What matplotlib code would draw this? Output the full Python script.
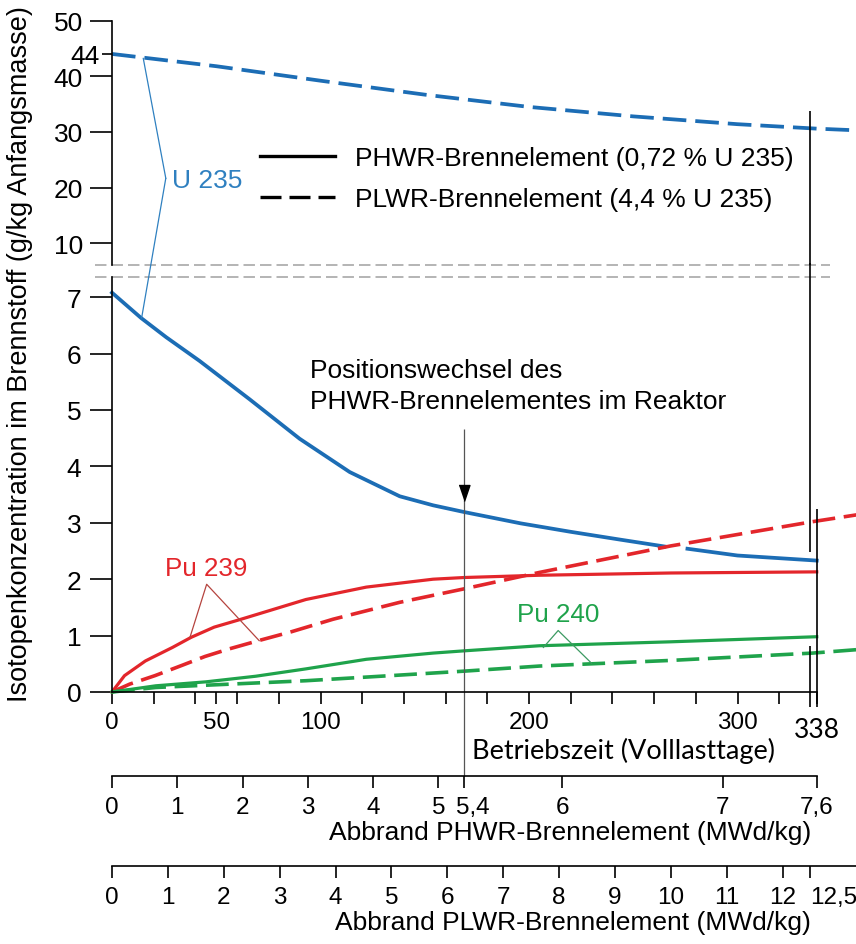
"""Isotopenkonzentration im PHWR- und PLWR-Brennelement über der Betriebszeit."""

import numpy as np
import matplotlib.pyplot as plt
import matplotlib.transforms as mtransforms
from matplotlib.lines import Line2D
from matplotlib.patches import ConnectionPatch

plt.rcParams["font.family"] = ["Liberation Sans", "DejaVu Sans"]

# --- curves (x in full-load days, y in g/kg initial mass) ---
u235_plwr_days = [0, 50, 100, 150, 200, 250, 300, 338, 357]
u235_plwr = [44.0, 41.8, 39.2, 36.7, 34.5, 32.8, 31.4, 30.6, 30.3]

# gap where the PLWR Pu 239 line crosses (as drawn in the original)
u235_phwr_days = [0, 14, 26, 42, 54, 66, 90, 114, 138, 148, 154, 169, 196, 220, 244,
                  265, 270, 276, 292, 300, 338]
u235_phwr = [7.08, 6.63, 6.29, 5.87, 5.53, 5.19, 4.49, 3.90, 3.47, 3.37, 3.31, 3.19,
             2.99, 2.84, 2.70, 2.58, np.nan, 2.54, 2.46, 2.42, 2.33]

pu239_phwr_days = [0, 6, 16, 29, 38, 49, 61, 77, 93, 122, 154, 169, 205, 268, 338]
pu239_phwr = [0, 0.29, 0.55, 0.79, 0.97, 1.15, 1.28, 1.46, 1.64, 1.86, 2.00, 2.03,
              2.07, 2.11, 2.13]

pu239_plwr_days = [0, 8.5, 20.6, 33.4, 44.6, 55.8, 70.2, 86.2, 106, 138, 169, 205,
                   268, 336, 357]
pu239_plwr = [0, 0.14, 0.29, 0.47, 0.63, 0.76, 0.91, 1.07, 1.29, 1.59, 1.83, 2.12,
              2.59, 3.02, 3.14]

pu240_phwr_days = [0, 21, 45, 69, 93, 122, 154, 169, 205, 268, 338]
pu240_phwr = [0, 0.11, 0.18, 0.28, 0.41, 0.58, 0.69, 0.73, 0.82, 0.89, 0.98]

pu240_plwr_days = [0, 21, 45, 69, 93, 138, 169, 205, 268, 336, 357]
pu240_plwr = [0, 0.08, 0.12, 0.16, 0.20, 0.30, 0.37, 0.46, 0.56, 0.69, 0.75]

# --- axes scales ---
top_yticks = [10, 20, 30, 40, 50]
top_extra_ytick = [44]
bottom_yticks = [0, 1, 2, 3, 4, 5, 6, 7]
day_ticks_labelled = [0, 50, 100, 200, 300, 338]
day_ticks_plain = [20, 40, 60, 80, 120, 140, 160, 180, 220, 240, 260, 280, 320]

# burnup <-> days (PHWR element changes position after half the time)
phwr_burnup_pts = [0, 5.4, 6, 7, 7.6]
phwr_day_pts = [0, 169, 216, 293, 338]
phwr_ticks = [0, 1, 2, 3, 4, 5, 5.4, 6, 7, 7.6]
plwr_burnup_pts = [0, 12.5]
plwr_day_pts = [0, 335]
plwr_ticks = [0, 1, 2, 3, 4, 5, 6, 7, 8, 9, 10, 11, 12, 12.5]

position_change_day = 169
plwr_end_day = 335
phwr_end_day = 338

BLUE = "#1c6db5"
U_TEXT = "#2f80c0"
RED = "#e3262b"
RED_PTR = "#b5443f"
GREEN = "#1fa34b"
GREEN_PTR = "#3c9a62"
GREY = "#a0a0a0"


def fmt(v):
    return f"{v:g}".replace(".", ",")


W, H = 856, 945
X0, PX_DAY = 112, 2.085
XMAX = (W - X0) / PX_DAY


def rect(top, bottom):
    return [X0 / W, 1 - bottom / H, (W - X0) / W, (bottom - top) / H]


fig = plt.figure(figsize=(W / 100, H / 100), dpi=100)
ax_t = fig.add_axes(rect(21.5, 266))
ax_b = fig.add_axes(rect(278, 693))
ax_p = fig.add_axes(rect(700, 777))
ax_l = fig.add_axes(rect(790, 867))

TOP_LO, BOT_HI = 6.14, 7.358
for ax in (ax_t, ax_b, ax_p, ax_l):
    ax.set_xlim(0, XMAX)
    ax.patch.set_visible(False)
    for s in ax.spines.values():
        s.set_linewidth(1.2)
    ax.spines[["top", "right"]].set_visible(False)
ax_t.set_ylim(TOP_LO, 50)
ax_b.set_ylim(0, BOT_HI)

# top part (PLWR U 235)
ax_t.spines["bottom"].set_visible(False)
ax_t.set_xticks([])
ax_t.set_yticks(top_yticks, [str(v) for v in top_yticks])
ax_t.set_yticks(top_extra_ytick, [str(v) for v in top_extra_ytick], minor=True)
ax_t.tick_params(axis="y", which="major", length=16, width=1.2, pad=5, labelsize=19)
ax_t.tick_params(axis="y", which="minor", length=7, width=1.2, pad=2, labelsize=19)

# lower part
ax_b.spines["bottom"].set_bounds(0, phwr_end_day)
ax_b.set_yticks(bottom_yticks, [str(v) for v in bottom_yticks])
ax_b.tick_params(axis="y", length=16, width=1.2, pad=6, labelsize=19)
ax_b.set_xticks(day_ticks_labelled, [str(v) for v in day_ticks_labelled])
ax_b.set_xticks(day_ticks_plain, minor=True)
ax_b.tick_params(axis="x", which="both", length=8.6, width=1.2, pad=5, labelsize=17.5)
lbl338 = ax_b.get_xticklabels()[-1]
lbl338.set_fontfamily("Lato")
lbl338.set_fontsize(19)
lbl338.set_y(-6 / 415)

# burnup scales
for ax, pts_b, pts_d, ticks, end, title in [
    (ax_p, phwr_burnup_pts, phwr_day_pts, phwr_ticks, phwr_end_day,
     "Abbrand PHWR-Brennelement (MWd/kg)"),
    (ax_l, plwr_burnup_pts, plwr_day_pts, plwr_ticks, XMAX,
     "Abbrand PLWR-Brennelement (MWd/kg)"),
]:
    ax.spines["left"].set_visible(False)
    ax.spines["bottom"].set_bounds(0, end)
    ax.set_yticks([])
    ax.set_xticks(np.interp(ticks, pts_b, pts_d), [fmt(v) for v in ticks])
    ax.tick_params(axis="x", length=8.6, width=1.2, pad=6, labelsize=17.5)
    ax.set_xlabel(title, fontsize=19, ha="right", labelpad=1)
    ax.xaxis.label.set_x((811 - X0) / (W - X0))
ax_l.get_xticklabels()[-1].set_ha("left")
# "5,4" sits a little right of its tick in the original
lbl54 = ax_p.get_xticklabels()[phwr_ticks.index(5.4)]
lbl54.set_transform(lbl54.get_transform()
                    + mtransforms.ScaledTranslation(0.08, 0, fig.dpi_scale_trans))

# axis break
for ax, y in ((ax_t, TOP_LO), (ax_b, BOT_HI)):
    ax.axhline(y, xmin=-17 / 744, xmax=718 / 744, color=GREY, lw=1.1,
               ls=(0, (7.5, 3.3)), clip_on=False)

# curves
DASH = (0, (6.3, 2.4))
ax_t.plot(u235_plwr_days, u235_plwr, color=BLUE, lw=2.7, ls=DASH, clip_on=False)
ax_b.plot(u235_phwr_days, u235_phwr, color=BLUE, lw=2.7, clip_on=False)
ax_b.plot(pu239_phwr_days, pu239_phwr, color=RED, lw=2.3, clip_on=False)
ax_b.plot(pu239_plwr_days, pu239_plwr, color=RED, lw=2.6, ls=DASH, clip_on=False)
ax_b.plot(pu240_phwr_days, pu240_phwr, color=GREEN, lw=2.3, clip_on=False)
ax_b.plot(pu240_plwr_days, pu240_plwr, color=GREEN, lw=2.6, ls=DASH, clip_on=False)

# end-of-cycle markers
ax_t.vlines(plwr_end_day, TOP_LO, 33.8, color="black", lw=1.2)
ax_b.vlines(plwr_end_day, 2.48, 7.6, color="black", lw=1.2, clip_on=False)
ax_b.vlines(plwr_end_day, -0.27, 0.82, color="black", lw=1.2, clip_on=False)
ax_b.vlines(phwr_end_day, -0.27, 3.24, color="black", lw=1.2, clip_on=False)

# position change
ax_b.vlines(position_change_day, -1.49, 4.66, color="#555555", lw=0.9, clip_on=False)
ax_b.plot(position_change_day, 3.53, marker=[(-0.34, 0.5), (0.34, 0.5), (0, -0.5)],
          ms=11.5, color="black", lw=0)
ax_b.text(95, 5.93, "Positionswechsel des\nPHWR-Brennelementes im Reaktor",
          fontsize=19, va="top", linespacing=1.4)

# labels with pointers
ax_t.text(28.8, 21.4, "U 235", color=U_TEXT, fontsize=19, va="center")
ax_t.plot([15, 25.8], [43.2, 21.7], color=U_TEXT, lw=0.9)
fig.add_artist(ConnectionPatch((25.8, 21.7), (14.2, 6.63), "data", "data",
                               axesA=ax_t, axesB=ax_b, color=U_TEXT, lw=0.9))

ax_b.text(25.4, 2.20, "Pu 239", color=RED, fontsize=18.7, va="center")
ax_b.plot([37.4, 45.4, 70.6], [0.97, 1.91, 0.91], color=RED_PTR, lw=0.9)
ax_b.text(194.2, 1.38, "Pu 240", color=GREEN, fontsize=18.7, va="center")
ax_b.plot([206.9, 214, 230], [0.79, 1.09, 0.51], color=GREEN_PTR, lw=0.9)

# legend
handles = [Line2D([], [], color="black", lw=2.4),
           Line2D([], [], color="black", lw=2.4, ls=DASH)]
ax_t.legend(handles, ["PHWR-Brennelement (0,72 % U 235)",
                      "PLWR-Brennelement (4,4 % U 235)"],
            loc="upper left", bbox_to_anchor=(260 / W, 1 - 147 / H),
            bbox_transform=fig.transFigure, frameon=False, fontsize=19,
            handlelength=2.84, handletextpad=0.76, labelspacing=0.64,
            borderpad=0, borderaxespad=0)

# axis titles
ax_b.set_xlabel("Betriebszeit (Volllasttage)", fontfamily="Lato", fontsize=19.5,
                ha="left", labelpad=-3.5)
ax_b.xaxis.label.set_x((472 - X0) / (W - X0))
ax_b.set_ylabel("Isotopenkonzentration im Brennstoff (g/kg Anfangsmasse)",
                fontsize=19.5, va="center")
ax_b.yaxis.set_label_coords((20 - X0) / (W - X0), (693 - 354) / 415)

fig.savefig("out.png", dpi=100)
